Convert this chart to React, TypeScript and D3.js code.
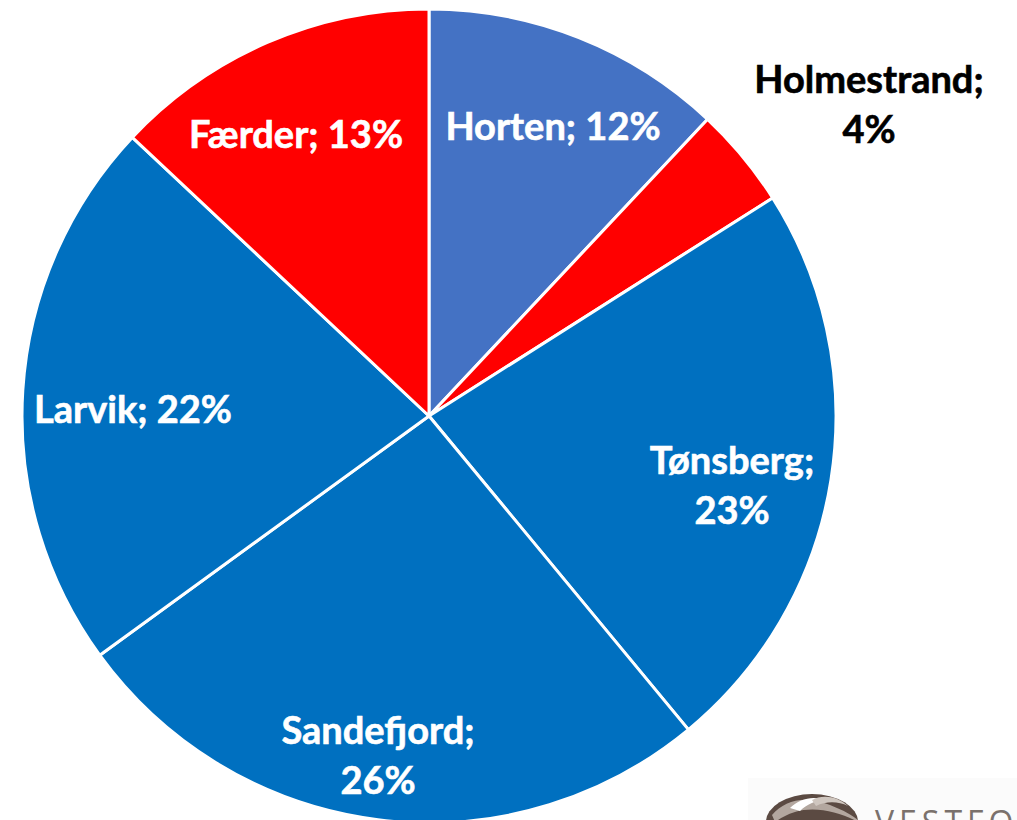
import React from "react";
import * as d3 from "d3";

const categories = ["Horten", "Holmestrand", "Tønsberg", "Sandefjord", "Larvik", "Færder"];
const values = [12, 4, 23, 26, 22, 13];
const colors = ["#4472C4", "#FF0000", "#0070C0", "#0070C0", "#0070C0", "#FF0000"];

const W = 1017;
const H = 820;
const cx = 429;
const cy = 416;
const R = 407;

type LabelSpec = { lines: string[]; x: number; y: number; fill: string };

export default function App() {
  const pie = d3.pie<number>().sort(null).value((d) => d);
  const arcs = pie(values);
  const arcGen = d3.arc<d3.PieArcDatum<number>>().innerRadius(0).outerRadius(R);

  const labelLines: string[][] = [
    [`${categories[0]}; ${values[0]}%`],
    [`${categories[1]};`, `${values[1]}%`],
    [`${categories[2]};`, `${values[2]}%`],
    [`${categories[3]};`, `${values[3]}%`],
    [`${categories[4]}; ${values[4]}%`],
    [`${categories[5]}; ${values[5]}%`],
  ];
  const labelFill = ["#fff", "#000", "#fff", "#fff", "#fff", "#fff"];
  const labelPos: [number, number][] = [
    [553, 125],
    [869, 103],
    [732, 484],
    [378, 754],
    [133, 408],
    [296, 133],
  ];

  const labels: LabelSpec[] = arcs.map((a, i) => ({
    lines: labelLines[i],
    x: labelPos[i][0],
    y: labelPos[i][1],
    fill: labelFill[i],
  }));

  const fs = 38;
  const lh = 50;

  return (
    <svg width={W} height={H} style={{ position: "absolute", left: 0, top: 0, background: "#fff" }}>
      <rect x={0} y={0} width={W} height={H} fill="#fff" />
      <g transform={`translate(${cx},${cy})`}>
        {arcs.map((a, i) => (
          <path key={i} d={arcGen(a) || ""} fill={colors[i]} stroke="#fff" strokeWidth={3} strokeLinejoin="round" />
        ))}
      </g>
      {labels.map((l, i) => (
        <text
          key={i}
          x={l.x}
          y={l.y - ((l.lines.length - 1) * lh) / 2}
          textAnchor="middle"
          dominantBaseline="central"
          fontFamily="Lato, 'Open Sans', sans-serif"
          fontWeight={700}
          fontSize={fs}
          fill={l.fill}
          stroke={l.fill}
          strokeWidth={0.6}
        >
          {l.lines.map((t, j) => (
            <tspan key={j} x={l.x} dy={j === 0 ? 0 : lh}>
              {t}
            </tspan>
          ))}
        </text>
      ))}
      {/* partial logo, bottom right */}
      <g>
        <rect x={748} y={778} width={269} height={42} fill="#fbfbfb" />
        <ellipse cx={812} cy={822} rx={46} ry={28} fill="#5b4a42" />
        <path d="M772,815 C785,800 805,795 830,805 C845,811 852,815 858,820 L858,822 C840,812 815,806 795,812 C785,815 778,820 775,822 Z" fill="#b3a79f" />
        <path d="M790,808 C800,798 815,795 826,801 C818,800 808,803 800,811 Z" fill="#fff" />
        <path d="M812,800 C822,794 838,796 848,806 C838,801 826,801 816,806 Z" fill="#cfc6bf" />
        <text x={875} y={834} fontFamily="'Open Sans', sans-serif" fontWeight={400} fontSize={32} fill="#7a716c" letterSpacing={5}>
          VESTFOLD
        </text>
      </g>
    </svg>
  );
}
